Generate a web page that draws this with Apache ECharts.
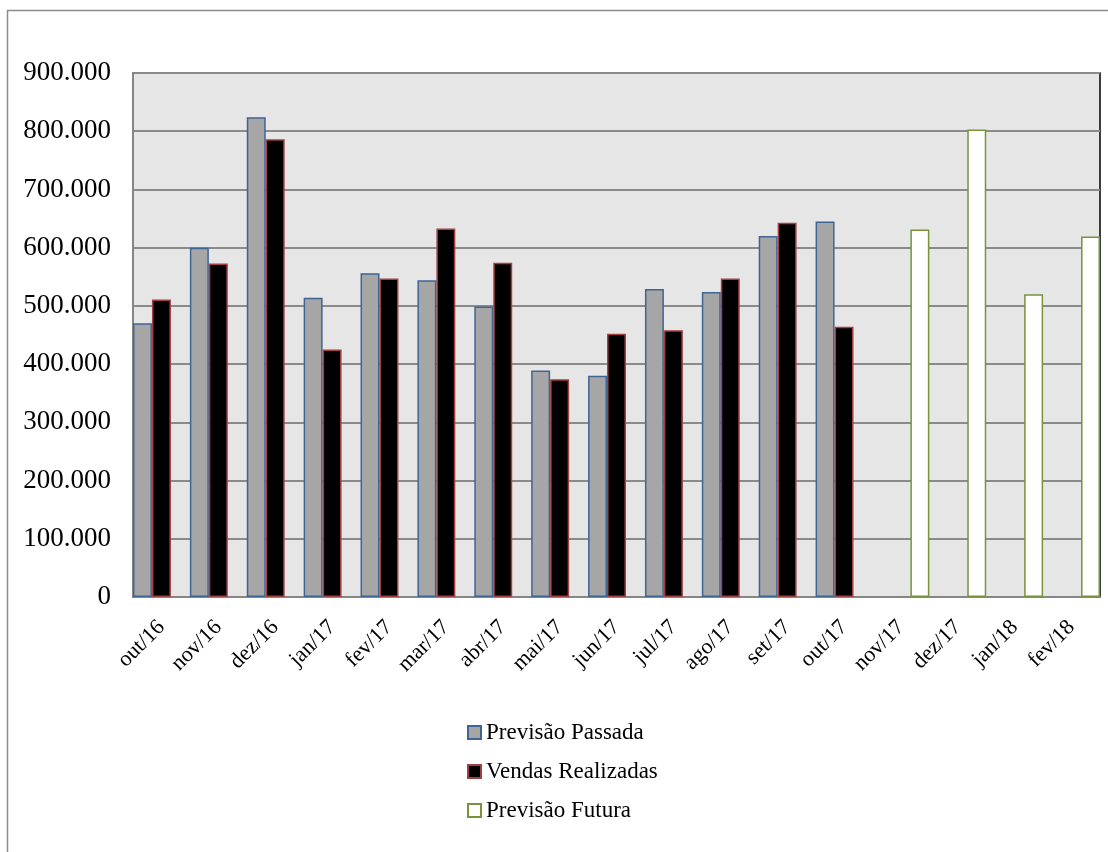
<!DOCTYPE html>
<html>
<head>
<meta charset="utf-8">
<script src="https://cdn.jsdelivr.net/npm/echarts@6/dist/echarts.min.js"></script>
<style>
html,body{margin:0;padding:0;background:#fff;}
#chart{width:1108px;height:852px;}
</style>
</head>
<body>
<div id="chart"></div>
<script>
var categories = ['out/16','nov/16','dez/16','jan/17','fev/17','mar/17','abr/17','mai/17','jun/17','jul/17','ago/17','set/17','out/17','nov/17','dez/17','jan/18','fev/18'];
var previsaoPassada = [470000,600000,824000,514000,556000,544000,499000,389000,380000,529000,524000,620000,645000,null,null,null,null];
var vendasRealizadas = [511000,573000,786000,425000,547000,633000,574000,374000,452000,458000,547000,643000,464000,null,null,null,null];
var previsaoFutura = [null,null,null,null,null,null,null,null,null,null,null,null,null,631000,803000,520000,619000];
var yTicks = {min:0, max:900000, interval:100000};

var FONT = '"Liberation Serif", "Times New Roman", serif';
var chart = echarts.init(document.getElementById('chart'));
chart.setOption({
  animation:false,
  backgroundColor:'#ffffff',
  graphic:[{
    type:'rect', silent:true, z:-10,
    shape:{x:7.5, y:10.5, width:1120, height:860},
    style:{fill:'none', stroke:'#8c8c8c', lineWidth:1.5}
  }],
  grid:{left:133, right:8, top:73, bottom:255, show:true, backgroundColor:'#e6e6e6', borderColor:'#000000', borderWidth:1.5, containLabel:false},
  legend:{
    orient:'vertical', left:462, top:716, itemWidth:13, itemHeight:13, itemGap:16, icon:'rect',
    textStyle:{fontFamily:FONT, fontSize:23, color:'#000', padding:[0,0,0,0]},
    data:['Previsão Passada','Vendas Realizadas','Previsão Futura']
  },
  xAxis:{
    type:'category', data:categories,
    axisLine:{show:true, lineStyle:{color:'#868686', width:2}},
    axisTick:{show:false},
    axisLabel:{rotate:45, interval:0, margin:27, fontFamily:FONT, fontSize:22, color:'#000'},
    splitLine:{show:false}
  },
  yAxis:{
    type:'value', min:yTicks.min, max:yTicks.max, interval:yTicks.interval,
    axisLine:{show:true, lineStyle:{color:'#868686', width:2}},
    axisTick:{show:false},
    axisLabel:{margin:22, fontFamily:FONT, fontSize:27, color:'#000',
      formatter:function(v){ return v===0 ? '0' : (v/1000).toFixed(0)+'.000'; }},
    splitLine:{show:true, lineStyle:{color:'#8a8a8a', width:2}}
  },
  series:[
    {name:'Previsão Passada', type:'bar', data:previsaoPassada, barGap:'0%', barCategoryGap:'0%',
      itemStyle:{color:'#a6a6a6', borderColor:'#3f6496', borderWidth:1.5}},
    {name:'Vendas Realizadas', type:'bar', data:vendasRealizadas, barGap:'0%', barCategoryGap:'0%',
      itemStyle:{color:'#000000', borderColor:'#a33f3f', borderWidth:1.5}},
    {name:'Previsão Futura', type:'bar', data:previsaoFutura, barGap:'0%', barCategoryGap:'0%',
      itemStyle:{color:'#ffffff', borderColor:'#77933c', borderWidth:1.5}}
  ]
});
</script>
</body>
</html>
